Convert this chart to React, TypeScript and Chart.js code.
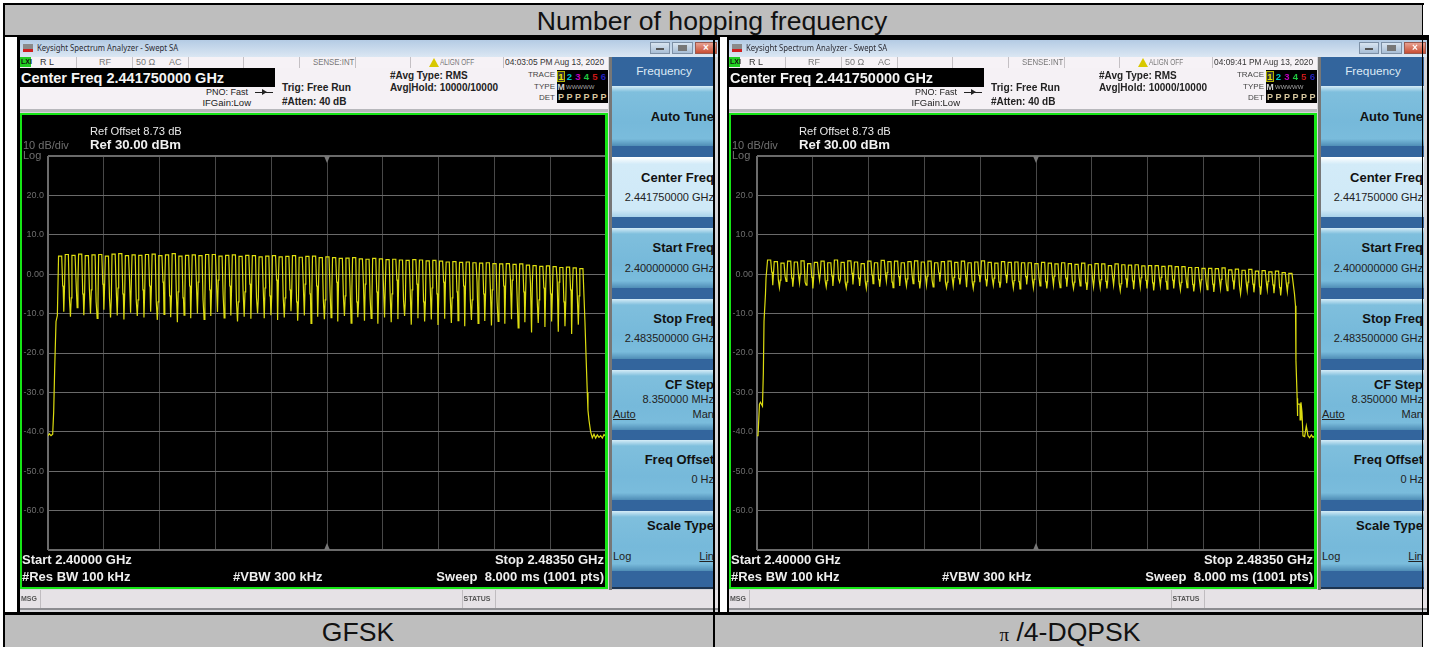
import React, { useEffect, useRef } from "react";
import { Chart, registerables } from "chart.js";

Chart.register(...registerables);

// ---------- values ----------
const FREQ_START = 2400;
const FREQ_STOP = 2483.5;
const REF_LEVEL = 30;
const BOTTOM_LEVEL = -70;
const graticuleFreqs = [2400, 2408.35, 2416.7, 2425.05, 2433.4, 2441.75, 2450.1, 2458.45, 2466.8, 2475.15, 2483.5];
const levelLabels = ["20.0", "10.0", "0.00", "-10.0", "-20.0", "-30.0", "-40.0", "-50.0", "-60.0"];
const firstChannel = 2402;

const gfskPeaks = [4.6,5.0,4.8,5.1,4.7,4.9,5.0,4.6,5.1,5.2,4.7,4.9,4.8,5.0,5.1,4.7,4.9,5.2,4.6,4.8,
  4.9,4.7,5.0,5.0,4.6,4.8,4.9,4.5,4.8,4.7,4.4,4.6,4.7,4.4,4.5,4.7,4.3,4.5,4.6,4.2,
  4.4,4.2,4.0,4.1,4.2,3.9,3.8,4.0,3.9,3.7,3.8,3.6,3.5,3.7,3.6,3.4,3.5,3.3,3.1,3.2,
  3.0,3.1,2.9,2.8,2.9,2.7,2.6,2.7,2.5,2.6,2.3,2.2,2.0,2.1,1.9,1.7,1.8,1.6,1.4];
const gfskShoulders = [-3,-6,-2,-5,-4,-7,-2.5,-6,-3.5,-5,-1.5,-6.5,-4,-3,-7,-2,-5.5,-4.5,-6,-3,
  -2,-6.5,-4,-1.5,-5,-3,-7,-4.5,-2.5,-6,-3.5,-5.5,-1.5,-6,-4,-7,-2.5,-5,-3,-6.5,
  -4,-2,-5.5,-3.5,-7,-2.5,-6,-4.5,-3,-5,-1.5,-6.5,-4,-2.5,-7,-3.5,-5,-2,-6,-4.5,
  -3,-6.5,-2,-5,-4,-7,-3,-1.5,-6,-4.5,-2.5,-6.5,-3.5,-5,-2,-7,-4,-5.5,-3];
const gfskDips = [-9.5,-10.8,-8.5,-10.4,-10.0,-11.2,-9.0,-11.0,-10.5,-11.5,-9.8,-10.6,-11.0,-9.5,-11.6,-10.2,-10.9,-12.2,-10.4,-11.2,
  -10.0,-11.5,-10.6,-9.6,-11.1,-10.5,-12.0,-10.8,-11.3,-9.9,-11.2,-10.4,-11.6,-11.0,-9.4,-11.8,-10.5,-12.5,-10.8,-11.4,
  -11.0,-12.0,-10.6,-12.4,-10.9,-11.8,-11.2,-12.6,-11.0,-12.2,-11.4,-10.6,-12.8,-11.2,-12.0,-11.5,-12.9,-11.3,-12.4,-11.8,
  -13.2,-11.6,-12.5,-11.9,-13.0,-12.0,-12.6,-11.4,-13.6,-12.2,-14.8,-12.4,-13.4,-12.0,-14.6,-13.2,-15.2,-12.8,-13.6];
const gfskRiseFreqs = [2400, 2400.2, 2400.45, 2400.7, 2400.85, 2401, 2401.2, 2401.4];
const gfskRiseLevels = [-41, -40.5, -41, -40.6, -35, -24, -12, -10.5];
const gfskFallFreqs = [2480.35, 2480.5, 2480.7, 2480.8, 2480.95, 2481.2, 2481.45, 2481.7, 2481.95, 2482.2, 2482.45, 2482.7, 2482.95, 2483.2, 2483.5];
const gfskFallLevels = [-12, -20, -30, -34.5, -37, -40, -41.5, -40.6, -41.6, -40.8, -41.4, -41, -41.6, -40.7, -41.2];

const dqpskPeaks = [3.6,3.2,2.8,3.3,3.1,3.4,2.7,3.0,3.3,2.9,3.6,3.0,3.4,3.1,2.7,3.3,2.9,3.5,3.2,3.3,
  2.9,3.2,3.4,3.1,3.3,2.9,3.2,3.3,3.0,3.3,2.9,3.1,3.4,3.0,2.8,3.2,3.0,3.1,2.9,2.9,
  2.7,3.0,2.8,2.6,2.9,2.7,2.5,2.8,2.4,2.7,2.6,2.2,2.6,2.4,2.3,2.4,2.1,2.2,2.2,2.0,
  2.1,1.9,1.9,1.7,1.7,1.5,1.5,1.4,1.6,1.1,1.3,1.0,1.2,0.8,0.9,0.6,0.8,0.4,0.2];
const dqpskShoulders = [0.5,-1.5,-0.5,-1,0,-2,-0.8,0.3,-1.6,-0.4,-1.2,-2,0.2,-1,-1.8,-0.2,-1.4,0.4,-2,-0.6,
  -1.2,0,-1.8,-0.5,-1.5,0.3,-2,-0.8,-1.1,0,-1.9,-0.3,-1.4,-1,-2,-0.2,-1.6,-1.9,-0.6,-1.3,
  -0.8,-1.9,-0.5,-1.5,-1,-2,-0.7,-2.2,-1.1,-1.4,-1.8,-0.6,-2.4,-1.2,-1.7,-0.9,-1.6,-2.2,-0.8,-1.9,
  -1.5,-2.1,-1.1,-2.6,-1.4,-1.8,-2.5,-1.3,-2.2,-1.7,-3,-2,-2.5,-3.2,-1.8,-2.7,-3.4,-2.2,-2.6];
const dqpskDips = [-2.8,-3.4,-1.8,-3.2,-2.2,-2.8,-3.6,-1.6,-3.2,-3.0,-2.0,-3.5,-2.6,-3.0,-3.6,-2.4,-3.2,-1.8,-3.4,-3.0,
  -3.0,-2.4,-3.6,-2.8,-3.2,-1.9,-3.4,-3.0,-2.6,-3.3,-3.6,-2.0,-3.1,-2.8,-3.4,-2.3,-3.5,-3.7,-2.6,-3.4,
  -3.0,-3.6,-2.8,-3.4,-3.2,-3.6,-3.0,-4.0,-3.2,-3.4,-3.6,-2.8,-4.2,-3.4,-3.8,-3.2,-3.6,-4.1,-3.0,-3.8,
  -3.6,-4.0,-3.4,-4.4,-3.6,-3.9,-4.5,-3.6,-4.2,-3.9,-5.0,-4.2,-4.6,-5.2,-4.0,-4.8,-5.4,-4.4,-4.8];
const dqpskRiseFreqs = [2400, 2400.15, 2400.37, 2400.52, 2400.82, 2400.95, 2401.05, 2401.27, 2401.35];
const dqpskRiseLevels = [-41, -41, -33, -32.5, -33.5, -25, -12, -5, -1];
const dqpskFallFreqs = [2480.43, 2480.58, 2480.65, 2480.83, 2480.87, 2480.92, 2481.25, 2481.27, 2481.4, 2481.55, 2481.7, 2481.95, 2482.2, 2482.45, 2482.7, 2482.95, 2483.2, 2483.5];
const dqpskFallLevels = [-5, -8, -22, -31.5, -36, -33, -33, -37, -32.5, -35, -41, -41.2, -38.5, -41, -41.5, -40.8, -41.4, -41];

// ---------- building the traces ----------
function buildTrace(riseF: number[], riseL: number[], peaks: number[], shoulders: number[], dips: number[], fallF: number[], fallL: number[]) {
  const pts: { x: number; y: number }[] = riseF.map((x, i) => ({ x, y: riseL[i] }));
  peaks.forEach((p, k) => {
    const f = firstChannel + k;
    pts.push({ x: f - 0.42, y: p }, { x: f + 0.05, y: p });
    if (k < peaks.length - 1) {
      pts.push(
        { x: f + 0.2, y: shoulders[k] },
        { x: f + 0.27, y: shoulders[k] },
        { x: f + 0.36, y: dips[k] },
        { x: f + 0.48, y: shoulders[k] }
      );
    }
  });
  fallF.forEach((x, i) => pts.push({ x, y: fallL[i] }));
  return pts;
}

function Trace({ points }: { points: { x: number; y: number }[] }) {
  const ref = useRef<HTMLCanvasElement>(null);
  useEffect(() => {
    const chart = new Chart(ref.current!, {
      type: "line",
      data: { datasets: [{ data: points, borderColor: "#dcdc10", borderWidth: 1.2, pointRadius: 0, tension: 0 }] },
      options: {
        animation: false,
        responsive: false,
        layout: { padding: { top: 42, bottom: 37, left: 0, right: 2 } },
        plugins: { legend: { display: false }, tooltip: { enabled: false } },
        scales: {
          x: {
            type: "linear",
            min: FREQ_START,
            max: FREQ_STOP,
            afterBuildTicks: (s: any) => { s.ticks = graticuleFreqs.map((value) => ({ value })); },
            afterFit: (s: any) => { s.height = 0; },
            ticks: { display: false },
            border: { display: false },
            grid: {
              color: (c: any) => (c.index === 0 || c.index === graticuleFreqs.length - 1 ? "#6c6c6c" : "#484848"),
              lineWidth: (c: any) => (c.index === 0 || c.index === graticuleFreqs.length - 1 ? 2 : 1),
              drawTicks: false,
            },
          },
          y: {
            min: BOTTOM_LEVEL,
            max: REF_LEVEL,
            afterFit: (s: any) => { s.width = 27; },
            afterBuildTicks: (s: any) => {
              s.ticks = [];
              for (let i = 0; i <= levelLabels.length + 1; i++) s.ticks.push({ value: REF_LEVEL - i * 10 });
            },
            ticks: {
              color: "#6e6e6e",
              padding: 4,
              font: { family: "'Liberation Sans'", size: 9 },
              callback: (_: any, i: number) => (i === 0 || i > levelLabels.length ? "" : levelLabels[i - 1]),
            },
            border: { display: false },
            grid: {
              color: "#6a6a6a",
              lineWidth: (c: any) => (c.index === 0 || c.index === levelLabels.length + 1 ? 2 : 1),
              drawTicks: false,
            },
          },
        },
      },
    } as any);
    return () => chart.destroy();
  }, [points]);
  return <canvas ref={ref} width={587} height={473} style={{ position: "absolute", left: 21, top: 114, display: "block" }} />;
}

// ---------- helpers for the analyzer frame ----------
const SANS = "'Liberation Sans', Arial, sans-serif";

type TP = { x: number; y: number; s?: number; b?: boolean; c?: string; r?: boolean; u?: boolean; f?: string; ctr?: boolean; sx?: number; children: React.ReactNode };
function T({ x, y, s = 11, b, c = "#111", r, u, f = SANS, ctr, sx, children }: TP) {
  const box = 400;
  const left = r ? x - box : ctr ? x - box / 2 : x;
  return (
    <div style={{
      position: "absolute", left, top: y - 12, width: box, height: 24, lineHeight: "24px",
      textAlign: r ? "right" : ctr ? "center" : "left", fontFamily: f, fontSize: s,
      fontWeight: b ? 700 : 400, color: c, whiteSpace: "pre", textDecoration: u ? "underline" : "none",
      transform: sx ? `scaleX(${sx})` : undefined, transformOrigin: "left center",
    }}>{children}</div>
  );
}
function Box({ l, t, w, h, bg, extra }: { l: number; t: number; w: number; h: number; bg: string; extra?: React.CSSProperties }) {
  return <div style={{ position: "absolute", left: l, top: t, width: w, height: h, background: bg, ...extra }} />;
}

const statusDividers = [76, 132, 188, 243, 299, 355, 410, 503];
const traceColors = ["#e6e600", "#00c8c8", "#c000c0", "#20c840", "#c81818", "#2020c0"];
const softkeyTops = [86, 157, 228, 299, 369.5, 440, 511];

function Softkey({ top, selected }: { top: number; selected?: boolean }) {
  const bg = selected
    ? "linear-gradient(#ffffff 0, #d3ebf8 12%, #cfe9f7 88%, #a8d2ea 100%)"
    : "linear-gradient(#d5ecf7 0, #7fbfdd 10%, #76b9da 60%, #7abcdc 88%, #4f8db6 100%)";
  return <Box l={612} t={top} w={103} h={60} bg={bg} />;
}

function Analyzer({ dx, stamp, points }: { dx: number; stamp: string; points: { x: number; y: number }[] }) {
  return (
    <div style={{ position: "absolute", left: dx, top: 0, width: 720, height: 647 }}>
      {/* window frame */}
      <Box l={20} t={40} w={698} h={572} bg="#d5d5d9" />
      <Box l={20} t={40} w={698} h={17} bg="linear-gradient(#b4cbe4, #dbe7f3)" />
      <Box l={23} t={44} w={10} h={5} bg="#8a8a8a" />
      <Box l={23} t={49} w={10} h={3} bg="#d02020" />
      <T x={37} y={48} s={9} sx={0.86} f="'Noto Sans'" c="#2c2c34">Keysight Spectrum Analyzer - Swept SA</T>
      <Box l={650} t={42} w={20} h={12} bg="linear-gradient(#d8e4f0,#a8bed6)" extra={{ border: "1px solid #7d90a6", boxSizing: "border-box" }} />
      <Box l={656} t={48} w={8} h={2} bg="#555" />
      <Box l={672} t={42} w={21} h={12} bg="linear-gradient(#d8e4f0,#a8bed6)" extra={{ border: "1px solid #7d90a6", boxSizing: "border-box" }} />
      <Box l={678} t={45} w={9} h={6} bg="#777" />
      <Box l={695} t={42} w={22} h={12} bg="linear-gradient(#e8a090,#c84e34)" extra={{ border: "1px solid #9a5a50", boxSizing: "border-box" }} />
      <T x={706} y={48} s={10} b c="#fff" ctr>×</T>

      {/* status row */}
      <Box l={20} t={57} w={588} h={12} bg="#f6f2f6" />
      <Box l={20} t={57} w={11} h={10} bg="#22cc22" />
      <T x={21} y={62} s={7} b c="#101010">LXI</T>
      {statusDividers.map((x) => <Box key={x} l={x} t={57} w={1} h={11} bg="#c4c0c4" />)}
      <T x={40} y={62} s={9} c="#333">R L</T>
      <T x={99} y={62} s={9} c="#777">RF</T>
      <T x={136} y={62} s={9} c="#777">50 Ω</T>
      <T x={169} y={62} s={9} c="#777">AC</T>
      <T x={313} y={62} s={9} sx={0.87} c="#777">SENSE:INT</T>
      <div style={{ position: "absolute", left: 429, top: 58, width: 0, height: 0, borderLeft: "5px solid transparent", borderRight: "5px solid transparent", borderBottom: "9px solid #d8c800" }} />
      <T x={440} y={62} s={9} sx={0.72} c="#777">ALIGN OFF</T>
      <T x={505} y={62} s={9} sx={0.93} c="#333">{stamp}</T>

      {/* info band */}
      <Box l={20} t={68} w={588} h={42} bg="#f5f1f5" />
      <Box l={20} t={68} w={255} h={19} bg="#000" />
      <T x={21} y={78} s={14.5} b c="#f4f4f4">Center Freq 2.441750000 GHz</T>
      <T x={248} y={92} s={9} r c="#222">PNO: Fast</T>
      <T x={251} y={103} s={9.5} r c="#222">IFGain:Low</T>
      <Box l={255} t={91.5} w={18} h={1} bg="#222" />
      <div style={{ position: "absolute", left: 262, top: 89, width: 0, height: 0, borderTop: "3px solid transparent", borderBottom: "3px solid transparent", borderLeft: "5px solid #222" }} />
      <T x={282} y={88} s={10.2} b c="#222">Trig: Free Run</T>
      <T x={282} y={101.5} s={10} b c="#222">#Atten: 40 dB</T>
      <T x={390} y={75.5} s={10} b c="#222">#Avg Type: RMS</T>
      <T x={390} y={88} s={10} b c="#222">Avg|Hold: 10000/10000</T>
      <T x={555} y={75} s={8} r c="#444">TRACE</T>
      <T x={555} y={87} s={8} r c="#444">TYPE</T>
      <T x={555} y={98} s={8} r c="#444">DET</T>
      <Box l={557} t={70} w={51} h={33} bg="#000" />
      <Box l={557} t={71} w={8} h={11} bg="#333" extra={{ border: "1px solid #b4b400", boxSizing: "border-box" }} />
      {traceColors.map((c, i) => <T key={c} x={561 + i * 8.5} y={76.5} s={9.5} b c={c} ctr>{String(i + 1)}</T>)}
      <T x={561} y={87} s={9} b c="#cfcfcf" ctr>M</T>
      <T x={566} y={87} s={6} c="#a8a8a8">WWWWW</T>
      {traceColors.map((c, i) => <T key={c} x={561 + i * 8.5} y={97} s={9} b c="#d8c8a0" ctr>P</T>)}
      <Box l={20} t={109} w={588} h={3} bg="#b8b8bc" />

      {/* graph */}
      <Box l={21} t={114} w={586} h={474} bg="#000" />
      <Trace points={points} />
      <div style={{ position: "absolute", left: 324, top: 156, width: 0, height: 0, borderLeft: "3px solid transparent", borderRight: "3px solid transparent", borderTop: "7px solid #777" }} />
      <div style={{ position: "absolute", left: 324, top: 543, width: 0, height: 0, borderLeft: "3px solid transparent", borderRight: "3px solid transparent", borderBottom: "7px solid #777" }} />
      <Box l={20} t={112.5} w={2} h={476} bg="#16e616" />
      <Box l={605} t={112.5} w={2.5} h={476} bg="#16e616" />
      <Box l={20} t={112.5} w={587} h={2.5} bg="#16e616" />
      <Box l={20} t={586.5} w={587} h={2.5} bg="#16e616" />
      <T x={23} y={145} s={11} c="#707070">10 dB/div</T>
      <T x={23} y={155} s={11} c="#707070">Log</T>
      <T x={90} y={131} s={11.2} c="#e8e8e8">Ref Offset 8.73 dB</T>
      <T x={90} y={144.5} s={13.2} b c="#f0f0f0">Ref 30.00 dBm</T>
      <T x={22} y={560} s={13} b c="#eeeeee">Start 2.40000 GHz</T>
      <T x={22} y={577} s={13} b c="#eeeeee">#Res BW 100 kHz</T>
      <T x={233} y={577} s={13} b c="#eeeeee">#VBW 300 kHz</T>
      <T x={604} y={560} s={13} b c="#eeeeee" r>Stop 2.48350 GHz</T>
      <T x={604} y={577} s={13} b c="#eeeeee" r>Sweep  8.000 ms (1001 pts)</T>

      {/* message row */}
      <Box l={20} t={590} w={698} h={18} bg="#e6e2e6" />
      <Box l={20} t={608} w={698} h={2} bg="#8c8c90" />
      <T x={21} y={599} s={7} b c="#555">MSG</T>
      <Box l={40} t={590} w={1} h={18} bg="#c0bcc0" />
      <T x={463.5} y={599} s={7} b c="#555">STATUS</T>
      <Box l={462} t={590} w={1} h={18} bg="#c0bcc0" />
      <Box l={495} t={590} w={1} h={18} bg="#c0bcc0" />

      {/* softkeys */}
      <Box l={609} t={57} w={3} h={533} bg="#777" />
      <Box l={612} t={57} w={103} h={530} bg="#33659d" />
      <Box l={612} t={587} w={103} h={2} bg="#1c3450" />
      {softkeyTops.map((t, i) => <Softkey key={t} top={t} selected={i === 1} />)}
      <div style={{ position: "absolute", left: 612, top: 57, width: 101, height: 531, overflow: "hidden" }}>
        <div style={{ position: "absolute", left: -612, top: -57, width: 720, height: 647 }}>
          <T x={664} y={71} s={11.8} c="#dceaf6" ctr>Frequency</T>
          <T x={714} y={117} s={13} b r>Auto Tune</T>
          <T x={714} y={178} s={13} b r>Center Freq</T>
          <T x={714} y={197} s={11} r c="#222">2.441750000 GHz</T>
          <T x={714} y={248} s={13} b r>Start Freq</T>
          <T x={714} y={268} s={11} r c="#222">2.400000000 GHz</T>
          <T x={714} y={319} s={13} b r>Stop Freq</T>
          <T x={714} y={338} s={11} r c="#222">2.483500000 GHz</T>
          <T x={714} y={385} s={13} b r>CF Step</T>
          <T x={714} y={399} s={11} r c="#222">8.350000 MHz</T>
          <T x={613} y={414} s={11} u c="#222">Auto</T>
          <T x={714} y={414} s={11} r c="#222">Man</T>
          <T x={714} y={460} s={13} b r>Freq Offset</T>
          <T x={714} y={479} s={11} r c="#222">0 Hz</T>
          <T x={714} y={526} s={13} b r>Scale Type</T>
          <T x={613} y={556} s={11} c="#222">Log</T>
          <T x={714} y={556} s={11} u r c="#222">Lin</T>
        </div>
      </div>
    </div>
  );
}

const gfskTrace = buildTrace(gfskRiseFreqs, gfskRiseLevels, gfskPeaks, gfskShoulders, gfskDips, gfskFallFreqs, gfskFallLevels);
const dqpskTrace = buildTrace(dqpskRiseFreqs, dqpskRiseLevels, dqpskPeaks, dqpskShoulders, dqpskDips, dqpskFallFreqs, dqpskFallLevels);

export default function App() {
  return (
    <div style={{ position: "absolute", left: 0, top: 0, width: 1432, height: 647, overflow: "hidden", background: "#fff", filter: "blur(0.3px)" }}>
      {/* table cells */}
      <Box l={3} t={3} w={1421} h={2} bg="#000" />
      <Box l={3} t={5} w={1419} h={30} bg="#bebebe" />
      <T x={712} y={21} s={26.6} c="#111" ctr>Number of hopping frequency</T>
      <Box l={17} t={35} w={703} h={580} bg="#000" />
      <Box l={726.7} t={35} w={702} h={580} bg="#000" />
      <Box l={3} t={35} w={1421} h={2} bg="#000" />
      <Box l={3} t={5} w={1.5} h={642} bg="#000" />
      <Analyzer dx={0} stamp="04:03:05 PM Aug 13, 2020" points={gfskTrace} />
      <Analyzer dx={709} stamp="04:09:41 PM Aug 13, 2020" points={dqpskTrace} />
      <Box l={3} t={612} w={1426} h={3} bg="#000" />
      <Box l={4.5} t={615} w={1417} h={32} bg="#bebebe" />
      <Box l={712.7} t={35} w={2.3} h={612} bg="#000" />
      <Box l={1421.7} t={3} w={1.8} h={644} bg="#000" />
      <T x={358} y={632} s={26.6} c="#111" ctr>GFSK</T>
      <div style={{ position: "absolute", left: 870, width: 400, top: 620, height: 24, lineHeight: "24px", textAlign: "center", fontFamily: SANS, fontSize: 26.6, color: "#111", whiteSpace: "pre" }}>
        <span style={{ fontFamily: "'Liberation Serif'", fontSize: 19 }}>π</span> /4-DQPSK
      </div>
    </div>
  );
}
